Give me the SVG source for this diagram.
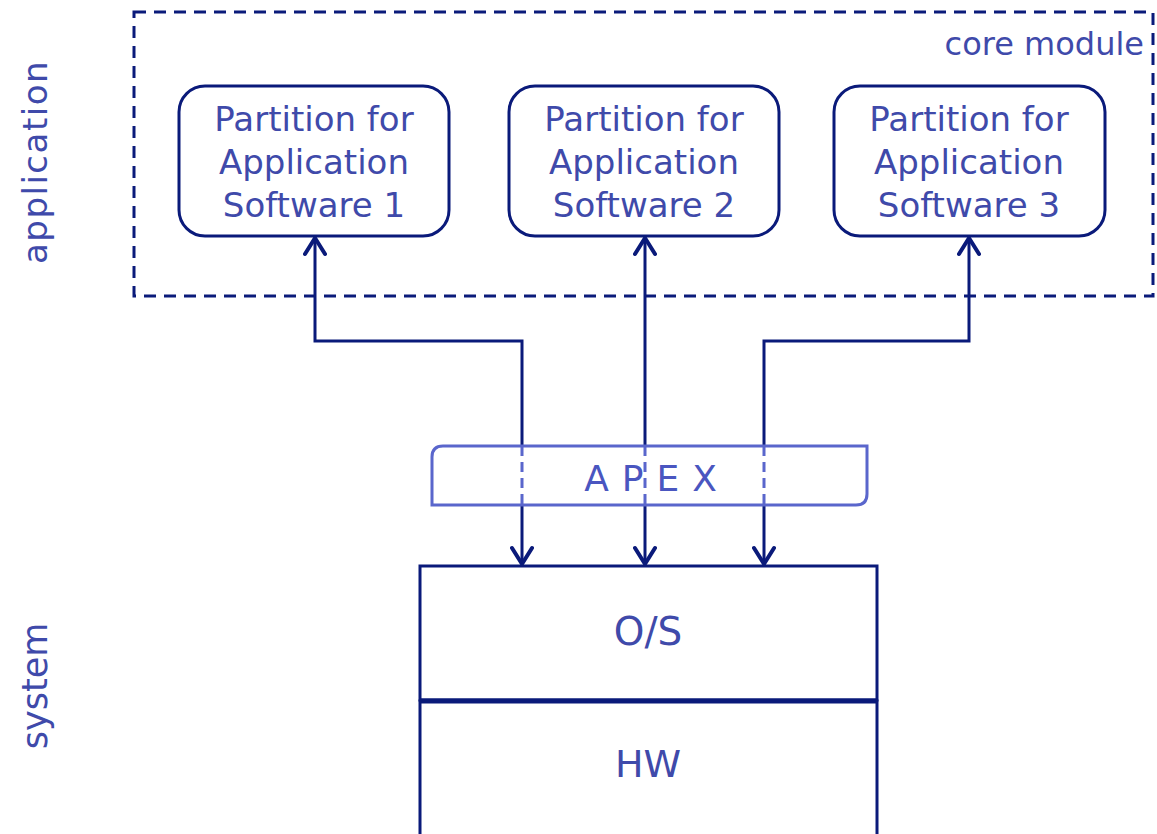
<svg xmlns="http://www.w3.org/2000/svg" width="1157" height="834" viewBox="0 0 1157 834">
<style>
.t{font-family:"DejaVu Sans","Liberation Sans",sans-serif;fill:#3f4aaa;}
.box{fill:#fff;stroke:#0a1a7a;stroke-width:3;}
.ln{fill:none;stroke:#0a1a7a;stroke-width:3;}
.dl{fill:none;stroke:#5a66cc;stroke-width:3;stroke-dasharray:10 6;}
</style>
<defs>
<marker id="ah" viewBox="0 0 24 24" refX="22" refY="12" markerWidth="24" markerHeight="24" markerUnits="userSpaceOnUse" orient="auto-start-reverse">
<path d="M6,2 L22,12 L6,22" fill="none" stroke="#0a1a7a" stroke-width="4" stroke-linecap="round" stroke-linejoin="round"/>
</marker>
</defs>
<rect width="1157" height="834" fill="#fff"/>
<g id="labels">
<text class="t" font-size="34" letter-spacing="1.5" transform="translate(47,162) rotate(-90)" text-anchor="middle">application</text>
<text class="t" font-size="35" transform="translate(47,686) rotate(-90)" text-anchor="middle">system</text>
</g>
<g id="core-module">
<rect x="134" y="12" width="1019" height="284" fill="none" stroke="#0a1a7a" stroke-width="3" stroke-dasharray="12 8"/>
<text class="t" font-size="32" x="1144" y="55" text-anchor="end">core module</text>
</g>
<g id="p1">
<rect class="box" x="179" y="86" width="270" height="150" rx="26"/>
<text class="t" font-size="34" text-anchor="middle"><tspan x="314" y="131">Partition for</tspan><tspan x="314" y="174">Application</tspan><tspan x="314" y="217">Software 1</tspan></text>
</g>
<g id="p2">
<rect class="box" x="509" y="86" width="270" height="150" rx="26"/>
<text class="t" font-size="34" text-anchor="middle"><tspan x="644" y="131">Partition for</tspan><tspan x="644" y="174">Application</tspan><tspan x="644" y="217">Software 2</tspan></text>
</g>
<g id="p3">
<rect class="box" x="834" y="86" width="271" height="150" rx="26"/>
<text class="t" font-size="34" text-anchor="middle"><tspan x="969" y="131">Partition for</tspan><tspan x="969" y="174">Application</tspan><tspan x="969" y="217">Software 3</tspan></text>
</g>
<g id="os">
<rect class="box" x="420" y="566" width="457" height="134"/>
<text class="t" font-size="39" x="648" y="645" text-anchor="middle">O/S</text>
</g>
<g id="hw">
<rect class="box" x="420" y="701" width="457" height="140"/>
<line x1="419" y1="701" x2="878" y2="701" stroke="#0a1a7a" stroke-width="5"/>
<text class="t" font-size="38" x="648" y="777" text-anchor="middle">HW</text>
</g>
<g id="connectors">
<path class="ln" d="M522,446 V341 H315 V238" marker-end="url(#ah)"/>
<path class="ln" d="M522,505 V564" marker-end="url(#ah)"/>
<path class="ln" d="M645,446 V238" marker-end="url(#ah)"/>
<path class="ln" d="M645,505 V564" marker-end="url(#ah)"/>
<path class="ln" d="M764,446 V341 H969 V238" marker-end="url(#ah)"/>
<path class="ln" d="M764,505 V564" marker-end="url(#ah)"/>
</g>
<g id="apex">
<path d="M443,446 H867 V494 Q867,505 856,505 H432 V457 Q432,446 443,446 Z" fill="#fff" stroke="#5a66cc" stroke-width="3"/>
<path class="dl" d="M522,446 V505 M645,446 V505 M764,446 V505"/>
<text font-family="'DejaVu Sans','Liberation Sans',sans-serif" fill="#4a56c0" font-size="36" x="657" y="491" text-anchor="middle" letter-spacing="13">APEX</text>
</g>
</svg>
